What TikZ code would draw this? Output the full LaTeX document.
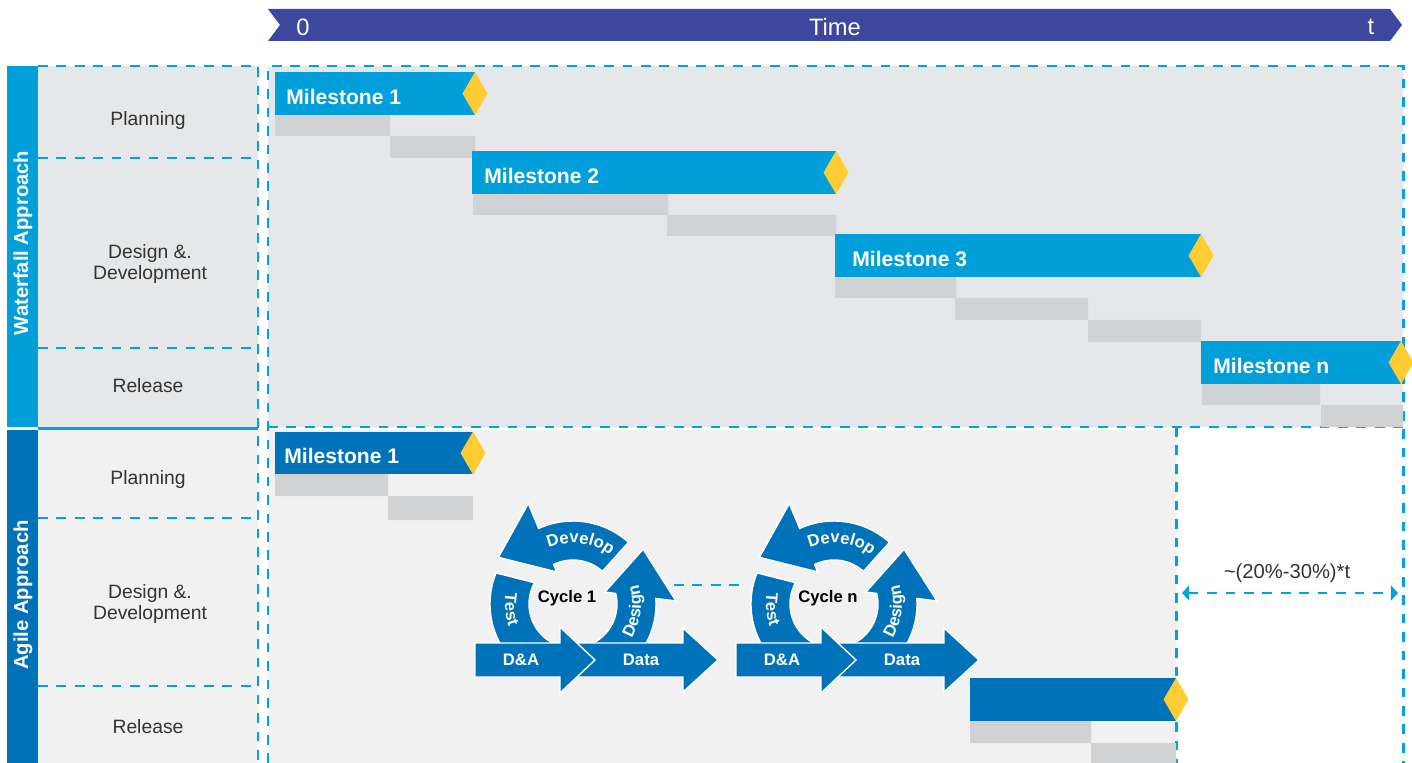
\documentclass[tikz,border=0pt]{standalone}
\usepackage{fontspec}
\setmainfont{Liberation Sans}
\usetikzlibrary{calc,arrows.meta,decorations.text}

\definecolor{timeblue}{HTML}{3C479D}
\definecolor{wfblue}{HTML}{009FDA}
\definecolor{agblue}{HTML}{0072BA}
\definecolor{msyellow}{HTML}{FFCC33}
\definecolor{wfgray}{HTML}{E6E7E8}
\definecolor{aggray}{HTML}{F1F1F1}
\definecolor{bargray}{HTML}{D1D2D4}
\definecolor{dashcyan}{HTML}{00A3E0}
\definecolor{labelgray}{HTML}{333333}

\newcommand{\arcfont}{\fontsize{9.5}{11}\selectfont\bfseries\color{white}}

\begin{document}
\begin{tikzpicture}[x=0.02cm,y=0.02cm,
    cyandash/.style={draw=dashcyan,line width=1.7pt,dash pattern=on 5.5pt off 5pt},
    lbl/.style={text=labelgray,font=\fontsize{11}{11.5}\selectfont,align=center},
    side/.style={rotate=90,text=white,font=\fontsize{11.5}{13}\selectfont\bfseries},
    timetxt/.style={text=white,font=\fontsize{13.5}{15}\selectfont},
    mstxt/.style={anchor=west,inner sep=0pt,text=white,font=\fontsize{12}{14}\selectfont\bfseries},
    cyctxt/.style={font=\fontsize{9.5}{11}\selectfont\bfseries},
    flow/.style={fill=agblue,draw=white,line width=0.8pt},
    gem/.pic={\fill[msyellow] (-12.5,0) -- (0,21.5) -- (12.5,0) -- (0,-21.5) -- cycle;}]

    \useasboundingbox (0,0) rectangle (1412,-763);

    % time axis
    \fill[timeblue] (268,-9) -- (1390,-9) -- (1402,-25) -- (1390,-41) -- (268,-41) -- (280,-25) -- cycle;
    \node[timetxt] (t0) at (303,-27) {0};
    \node[timetxt] (tmid) at (835,-27) {Time};
    \node[timetxt] (tend) at (1371,-27) {t};

    % backgrounds
    \fill[wfgray] (38,-66) rectangle (258,-427);
    \fill[wfgray] (268,-66) rectangle (1403,-427);
    \fill[aggray] (38,-430) rectangle (258,-763);
    \fill[aggray] (268,-430) rectangle (1176,-763);

    % grid lines
    \draw[cyandash] (38,-66) -- (258,-66) -- (258,-763);
    \draw[cyandash] (38,-158) -- (258,-158);
    \draw[cyandash] (38,-348) -- (258,-348);
    \draw[cyandash] (38,-518) -- (258,-518);
    \draw[cyandash] (38,-686) -- (258,-686);
    \draw[dashcyan,line width=1.2pt] (38,-428.5) -- (258,-428.5);
    \draw[cyandash] (268,-763) -- (268,-66) -- (1403,-66) -- (1403,-763);
    \draw[cyandash] (268,-427) -- (1403,-427);
    \draw[cyandash] (1176,-427) -- (1176,-763);

    % side bars
    \fill[wfblue] (7,-66) rectangle (38,-427);
    \fill[agblue] (7,-430) rectangle (38,-763);
    \node[side] (wf) at (23,-243) {Waterfall Approach};
    \node[side] (ag) at (23,-595) {Agile Approach};

    % phases
    \node[lbl] (wfplan) at (148,-121) {Planning};
    \node[lbl] (wfdev) at (150,-264) {Design \&.\\Development};
    \node[lbl] (wfrel) at (148,-386) {Release};
    \node[lbl] (agplan) at (148,-480) {Planning};
    \node[lbl] (agdev) at (150,-604) {Design \&.\\Development};
    \node[lbl] (agrel) at (148,-727) {Release};

    % waterfall
    \fill[bargray] (275,-115) rectangle (390,-136) (390,-136) rectangle (475,-158);
    \fill[bargray] (473,-194) rectangle (668,-215) (667,-215) rectangle (836,-236);
    \fill[bargray] (835,-277) rectangle (956,-298) (955,-298) rectangle (1088,-320) (1088,-320) rectangle (1201,-342);
    \fill[bargray] (1202,-384) rectangle (1320,-405) (1321,-405) rectangle (1403,-427);
    \fill[wfblue] (275,-72) rectangle (475,-115);
    \fill[wfblue] (472,-151) rectangle (836,-194);
    \fill[wfblue] (835,-234) rectangle (1201,-277);
    \fill[wfblue] (1201,-341) rectangle (1401,-384);
    \node[mstxt] (wm1) at (286,-96.5) {Milestone 1};
    \node[mstxt] (wm2) at (484,-175.5) {Milestone 2};
    \node[mstxt] (wm3) at (852,-258.5) {Milestone 3};
    \node[mstxt] (wmn) at (1213,-365.5) {Milestone n};
    \pic at (475,-93.5) {gem};
    \pic at (836,-172.5) {gem};
    \pic at (1201,-255.5) {gem};
    \pic at (1401,-362.5) {gem};

    % agile
    \fill[bargray] (275,-474) rectangle (388,-496) (388,-496) rectangle (473,-520);
    \fill[bargray] (970,-721) rectangle (1091,-743) (1091,-743) rectangle (1176,-763);
    \fill[agblue] (275,-432) rectangle (473,-474);
    \fill[agblue] (970,-678) rectangle (1176,-721);
    \node[mstxt] (am1) at (284,-455.5) {Milestone 1};
    \pic at (473,-453) {gem};
    \pic at (1176,-699.5) {gem};

    % cycles
    \foreach \dx/\lab [count=\i] in {0/Cycle 1,261/Cycle n}{
    \begin{scope}[shift={(573+\dx,-604)}]
        \path[flow] (158:83) arc[start angle=158,end angle=240,radius=83] -- (240:44) arc[start angle=240,end angle=151,radius=44] -- cycle;
        \path[flow] (48:83) arc[start angle=48,end angle=114.4,radius=83] -- (114:110) -- (148:88) -- (117:36) -- (116.1:44) arc[start angle=116.1,end angle=48,radius=44] -- cycle;
        \path[flow] (-62:83) arc[start angle=-62,end angle=3.8,radius=83] -- (1.7:103) -- (38:89) -- (20.6:34) -- (13.9:44) arc[start angle=13.9,end angle=-62,radius=44] -- cycle;
        \path[decorate,decoration={text along path,text align=center,text={|\arcfont|Develop}}] (127:61) arc[start angle=127,end angle=39,radius=61];
        \path[decorate,decoration={text along path,text align=center,text={|\arcfont|Test}}] (155:68) arc[start angle=155,end angle=215,radius=68];
        \path[decorate,decoration={text along path,text align=center,text={|\arcfont|Design}}] (-36:68) arc[start angle=-36,end angle=22,radius=68];
        \path[flow] (-8,-39) -- (110,-39) -- (110,-24) -- (145,-56) -- (110,-88) -- (110,-73) -- (-8,-73) -- cycle;
        \path[flow] (-98,-39) -- (-13,-39) -- (-13,-23) -- (22,-56) -- (-13,-89) -- (-13,-73) -- (-98,-73) -- cycle;
        \node[cyctxt,text=white] (da\i) at (-52,-56) {D\&A};
        \node[cyctxt,text=white] (data\i) at (68,-56) {Data};
        \node[cyctxt] (cyc\i) at (-6,6) {\lab};
        \coordinate (out\i) at (101,19);
        \coordinate (in\i) at (-89,19);
    \end{scope}}
    \draw[cyandash] (out1) -- (in2);

    % remaining time
    \coordinate (dimL) at (1182,-593);
    \coordinate (dimR) at (1398,-593);
    \draw[cyandash,{Triangle[length=4pt,width=8.5pt]}-{Triangle[length=4pt,width=8.5pt]}] (dimL) -- (dimR);
    \node[lbl,font=\fontsize{11.5}{13}\selectfont] (rest) at (1287,-573) {\textasciitilde(20\%-30\%)*t};
\end{tikzpicture}
\end{document}
